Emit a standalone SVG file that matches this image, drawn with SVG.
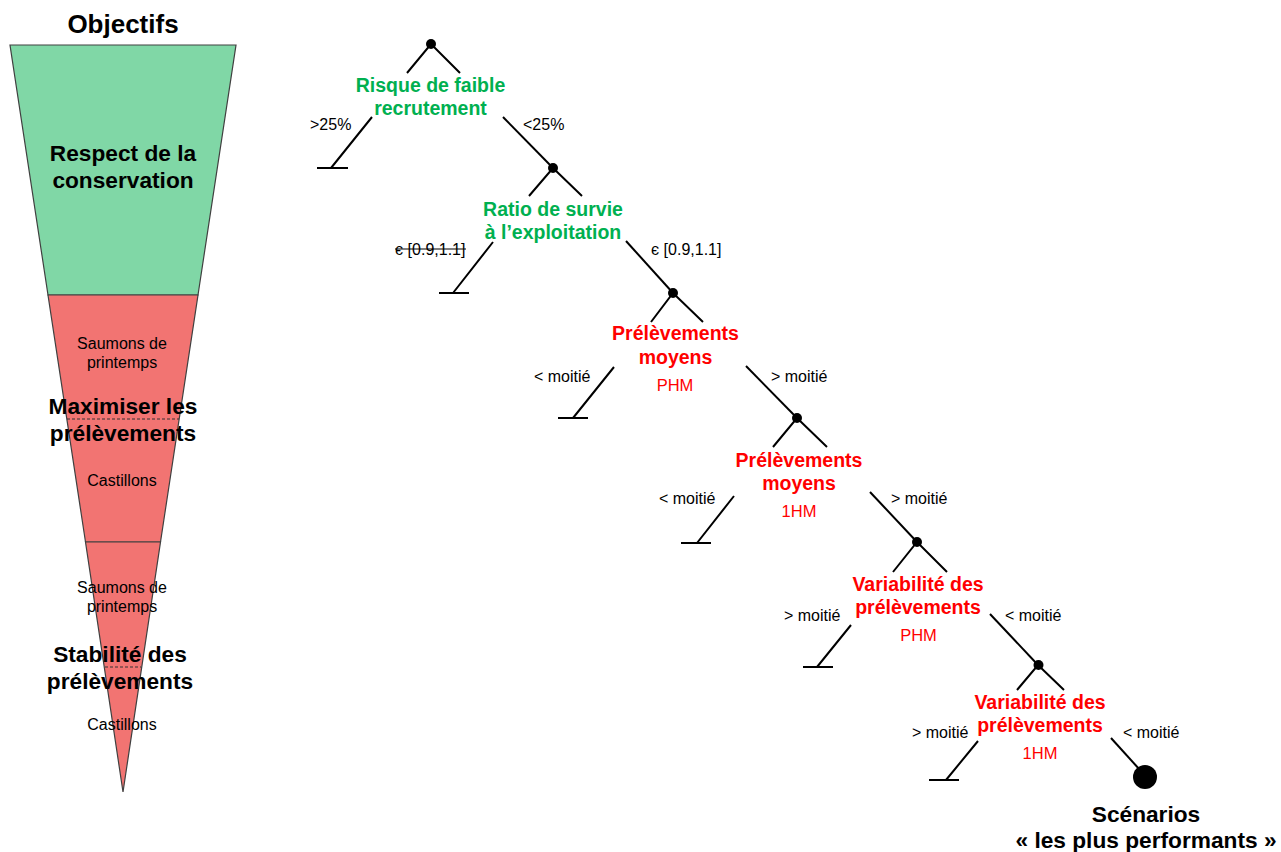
<svg xmlns="http://www.w3.org/2000/svg" width="1281" height="852" viewBox="0 0 1281 852">
<style>
.t{font-family:"Liberation Sans",Arial,sans-serif;text-anchor:middle}
.b{font-weight:bold}
.g{fill:#00B050}
.r{fill:#FF0000}
.k{fill:#000}
.s{font-family:"Liberation Sans",Arial,sans-serif;font-size:16px;fill:#000}
.ln{stroke:#000;stroke-width:2;fill:none}
.fun{stroke:#404040;stroke-width:1.2}
</style>
<rect width="1281" height="852" fill="#fff"/>
<g id="funnel">
<polygon class="fun" points="10,45 236,45 198,295 48,295" fill="#80D7A6"/>
<polygon class="fun" points="48,295 198,295 160.5,542 85.5,542" fill="#F27472"/>
<polygon class="fun" points="85.5,542 160.5,542 123,792" fill="#F27472"/>
<line x1="67" y1="419" x2="179" y2="419" stroke="#333" stroke-width="1" stroke-dasharray="3,2"/>
<line x1="105" y1="667" x2="141" y2="667" stroke="#333" stroke-width="1" stroke-dasharray="3,2"/>
<text class="t b k" x="123" y="33" font-size="26">Objectifs</text>
<text class="t b k" x="123" y="161" font-size="22.7">Respect de la</text>
<text class="t b k" x="123" y="188" font-size="22.7">conservation</text>
<text class="t k" x="122" y="349" font-size="16">Saumons de</text>
<text class="t k" x="122" y="368" font-size="16">printemps</text>
<text class="t b k" x="123" y="414" font-size="22.7">Maximiser les</text>
<text class="t b k" x="123" y="441" font-size="22.7">prélèvements</text>
<text class="t k" x="122" y="486" font-size="16">Castillons</text>
<text class="t k" x="122" y="593" font-size="16">Saumons de</text>
<text class="t k" x="122" y="612" font-size="16">printemps</text>
<text class="t b k" x="120" y="662" font-size="22.7">Stabilité des</text>
<text class="t b k" x="120" y="689" font-size="22.7">prélèvements</text>
<text class="t k" x="122" y="730" font-size="16">Castillons</text>
</g>
<g id="connectors">
<path class="ln" d="M407,73 L431,44 L460,73"/>
<path class="ln" d="M372,117 L331,168 M317,168 H348"/>
<path class="ln" d="M503,117 L553,168"/>
<path class="ln" d="M529,196 L553,168 L582,196"/>
<path class="ln" d="M493,242 L453,293 M439,293 H469"/>
<path class="ln" d="M626,241 L673,293"/>
<path class="ln" d="M651,322 L673,293 L703,322"/>
<path class="ln" d="M614,367 L573,418 M558,418 H588"/>
<path class="ln" d="M746,366 L797,418"/>
<path class="ln" d="M773,447 L797,418 L827,447"/>
<path class="ln" d="M734,496 L697,543 M681,543 H711"/>
<path class="ln" d="M870,492 L917,542"/>
<path class="ln" d="M893,572 L917,542 L947,572"/>
<path class="ln" d="M851,625 L817,667 M803,667 H833"/>
<path class="ln" d="M990,614 L1038,665"/>
<path class="ln" d="M1017,690 L1038,665 L1064,690"/>
<path class="ln" d="M978,741 L946,780 M929,780 H959"/>
<path class="ln" d="M1111,738 L1140,770"/>
</g>
<g id="dots">
<circle cx="431" cy="44" r="5"/>
<circle cx="553" cy="168" r="5"/>
<circle cx="673" cy="293" r="5"/>
<circle cx="797" cy="418" r="5"/>
<circle cx="917" cy="542" r="5"/>
<circle cx="1038.5" cy="665" r="5"/>
</g>
<g id="node-risque">
<text class="t b g" x="430.5" y="92" font-size="19.5">Risque de faible</text>
<text class="t b g" x="430.5" y="115" font-size="19.5">recrutement</text>
</g>
<g id="node-ratio">
<text class="t b g" x="553" y="216" font-size="19.5">Ratio de survie</text>
<text class="t b g" x="553" y="239" font-size="19.5">à l’exploitation</text>
</g>
<g id="node-prel-phm">
<text class="t b r" x="675.5" y="340" font-size="19.5">Prélèvements</text>
<text class="t b r" x="675.5" y="364" font-size="19.5">moyens</text>
<text class="t r" x="675" y="391" font-size="16.5">PHM</text>
</g>
<g id="node-prel-1hm">
<text class="t b r" x="799" y="467" font-size="19.5">Prélèvements</text>
<text class="t b r" x="799" y="490" font-size="19.5">moyens</text>
<text class="t r" x="799" y="517" font-size="16.5">1HM</text>
</g>
<g id="node-var-phm">
<text class="t b r" x="918" y="591" font-size="19.5">Variabilité des</text>
<text class="t b r" x="918" y="614" font-size="19.5">prélèvements</text>
<text class="t r" x="918.5" y="641" font-size="16.5">PHM</text>
</g>
<g id="node-var-1hm">
<text class="t b r" x="1040" y="709" font-size="19.5">Variabilité des</text>
<text class="t b r" x="1040" y="732" font-size="19.5">prélèvements</text>
<text class="t r" x="1040" y="759" font-size="16.5">1HM</text>
</g>
<g id="node-scenarios">
<circle cx="1145" cy="777" r="12"/>
<text class="t b k" x="1146" y="822" font-size="22.7">Scénarios</text>
<text class="t b k" x="1146" y="848" font-size="22.7">« les plus performants »</text>
</g>
<g id="edge-labels">
<text class="s" x="310" y="130">&gt;25%</text>
<text class="s" x="523" y="130">&lt;25%</text>
<text class="s" x="395" y="255">є [0.9,1.1]</text>
<line x1="395" y1="249" x2="466" y2="249" stroke="#000" stroke-width="1.2"/>
<text class="s" x="651" y="255">є [0.9,1.1]</text>
<text class="s" x="534" y="382">&lt; moitié</text>
<text class="s" x="771" y="382">&gt; moitié</text>
<text class="s" x="659" y="504">&lt; moitié</text>
<text class="s" x="891" y="504">&gt; moitié</text>
<text class="s" x="784" y="621">&gt; moitié</text>
<text class="s" x="1005" y="621">&lt; moitié</text>
<text class="s" x="912" y="738">&gt; moitié</text>
<text class="s" x="1123" y="738">&lt; moitié</text>
</g>
</svg>
